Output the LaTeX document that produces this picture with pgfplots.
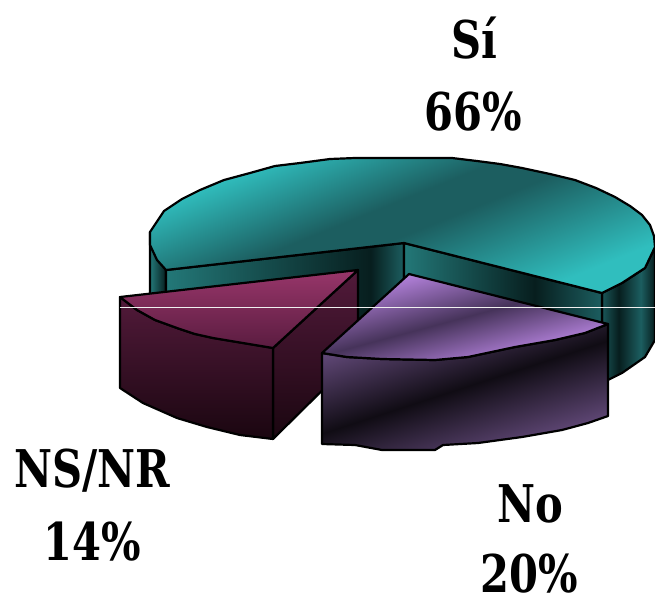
\documentclass[border=0pt]{standalone}
\usepackage{fontspec}
\setmainfont{DejaVu Serif}
\usepackage{pgfplots}
\pgfplotsset{compat=1.18}
\tikzset{lab/.style={anchor=base,inner sep=0pt,xscale=.8,font=\fontsize{52}{60}\selectfont\bfseries}}
\definecolor{tb}{HTML}{30BEBE}\definecolor{td}{HTML}{1C5E60}\definecolor{tk}{HTML}{071E1E}\definecolor{tm}{HTML}{237878}
\definecolor{pb}{HTML}{B482DC}\definecolor{pd}{HTML}{46335A}\definecolor{pk}{HTML}{100C14}\definecolor{pm}{HTML}{5E4674}
\definecolor{mb}{HTML}{98366A}\definecolor{md}{HTML}{5A1C40}\definecolor{mf}{HTML}{521A3A}\definecolor{mk}{HTML}{1A0610}
\pgfdeclareverticalshading{tealtop}{100bp}{color(0bp)=(tb);color(27bp)=(tb);color(48bp)=(td);color(55bp)=(td);color(73bp)=(tb);color(100bp)=(tb)}
\pgfdeclarehorizontalshading{tealinL}{100bp}{color(0bp)=(tm);color(25bp)=(tm);color(68bp)=(tk);color(75bp)=(td);color(100bp)=(td)}
\pgfdeclarehorizontalshading{tealinR}{100bp}{color(0bp)=(tm);color(25bp)=(tm);color(58bp)=(tk);color(75bp)=(td);color(100bp)=(td)}
\pgfdeclarehorizontalshading{tealout}{100bp}{color(0bp)=(td);color(25bp)=(td);color(42bp)=(tk);color(62bp)=(td);color(75bp)=(tk);color(100bp)=(tk)}
\pgfdeclarehorizontalshading{tealoutL}{100bp}{color(0bp)=(tm);color(25bp)=(tm);color(75bp)=(tk);color(100bp)=(tk)}
\pgfdeclareverticalshading{purtop}{100bp}{color(0bp)=(pb);color(30bp)=(pb);color(50bp)=(pd);color(72bp)=(pb);color(100bp)=(pb)}
\pgfdeclareverticalshading{purfront}{100bp}{color(0bp)=(pm);color(28bp)=(pm);color(50bp)=(pk);color(72bp)=(pm);color(100bp)=(pm)}
\pgfdeclareverticalshading{magtop}{100bp}{color(0bp)=(md);color(25bp)=(md);color(75bp)=(mb);color(100bp)=(mb)}
\pgfdeclareverticalshading{magfront}{100bp}{color(0bp)=(mk);color(25bp)=(mk);color(75bp)=(mf);color(100bp)=(mf)}
\begin{document}
\begin{tikzpicture}
\begin{axis}[at={(0,0)},anchor=south west,scale only axis,width=655pt,height=595pt,
  xmin=0,xmax=655,ymin=0,ymax=595,y dir=reverse,hide axis,clip=false,
  every axis plot/.append style={no markers,draw=black,line width=2.2pt,line join=round}]
% teal outer left
\addplot[shading=tealoutL] coordinates {(150,232)(150,245)(166,270)(166,320)(150,320)} --cycle;
% teal outer right
\addplot[shading=tealout] coordinates {(602,293)(622,283)(645,268)(655,247)(655,340)(645,357)(622,373)(600,384)(602,340)} --cycle;
% teal inner
\addplot[shading=tealinL] coordinates {(166,270)(404,243)(404,335)(166,335)} --cycle;
\addplot[shading=tealinR] coordinates {(404,243)(602,293)(602,345)(404,345)} --cycle;
% teal top
\addplot[shading=tealtop,shading angle=22] coordinates {(404,243)(166,270)(157,260)(150,245)(150,232)(164,211)(182,199)(200,190)(224,180)(250,173)(275,166)(300,163)(330,159)(355,158)(400,158)(452,158)(477,161)(500,164)(522,168)(550,174)(575,180)(596,188)(615,197)(630,206)(642,215)(650,225)(654,236)(655,247)(645,268)(622,283)(602,293)} --cycle;
% magenta
\addplot[shading=magfront] coordinates {(273,348)(358,270)(358,355)(273,439)} --cycle;
\addplot[shading=magfront] coordinates {(120,297)(137,310)(155,320)(177,328)(195,334)(213,338)(243,343)(273,348)(273,439)(240,435)(207,427)(177,418)(143,403)(120,388)} --cycle;
\addplot[shading=magtop] coordinates {(120,297)(358,270)(273,348)(243,343)(213,338)(195,334)(177,328)(155,320)(137,310)} --cycle;
% purple
\addplot[shading=purfront,shading angle=18] coordinates {(322,353)(347,357)(382,359)(435,360)(468,357)(515,347)(555,340)(585,333)(608,324)(608,416)(588,423)(562,430)(522,437)(478,443)(443,445)(435,450)(382,450)(355,445)(322,444)} --cycle;
\addplot[shading=purtop,shading angle=15] coordinates {(409,274)(608,324)(585,333)(555,340)(515,347)(468,357)(435,360)(382,359)(347,357)(322,353)} --cycle;
% thin light line
\addplot[draw=white!88!gray,line width=0.8pt] coordinates {(120,307)(655,307)};
\node[lab] at (axis cs:474,58) {Sí};
\node[lab] at (axis cs:473,130) {66\%};
\node[lab] at (axis cs:92,487) {NS/NR};
\node[lab] at (axis cs:92,560) {14\%};
\node[lab] at (axis cs:530,522) {No};
\node[lab] at (axis cs:529,592) {20\%};
\end{axis}
\pgfresetboundingbox
\path[use as bounding box] (0,0) rectangle (655pt,595pt);
\end{tikzpicture}
\end{document}
